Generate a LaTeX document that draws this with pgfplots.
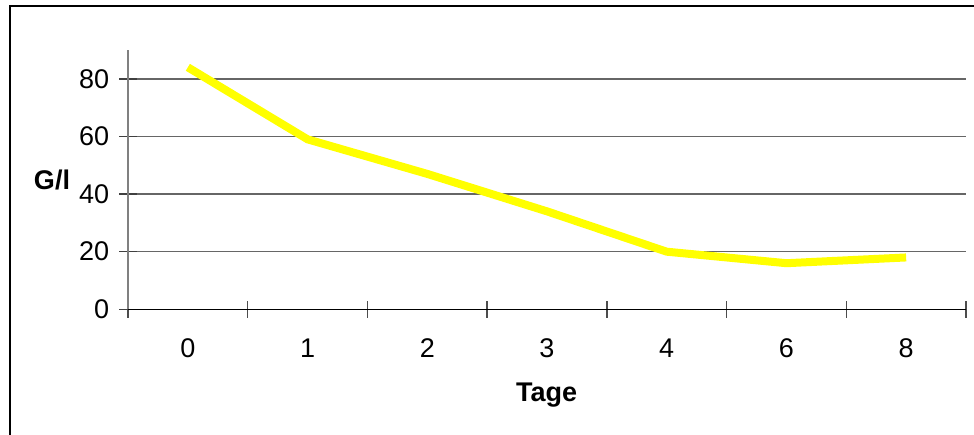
\documentclass[border=0pt]{standalone}
\usepackage{pgfplots}
\pgfplotsset{compat=1.18}
\usepackage{fontspec}
\setmainfont{Liberation Sans}
\begin{document}
\fontsize{13.5}{16}\selectfont
\begin{tikzpicture}[x=1pt,y=1pt]
\draw[black,line width=1pt] (5,-5) -- (5,214) -- (495,214);
\begin{axis}[
  at={(64pt,62.35pt)}, anchor=south west,
  scale only axis, width=419pt, height=129.65pt,
  xmin=-0.5, xmax=6.5, ymin=0, ymax=90,
  axis x line=bottom, axis y line=left,
  x axis line style={-, black, line width=0.75pt},
  y axis line style={-, black!50, line width=0.9pt},
  tick align=center, major tick length=8.5pt,
  xtick={-0.5,0.5,...,6.5}, xticklabels={},
  x tick style={black!70, line width=0.75pt},
  extra x ticks={0,1,2,3,4,5,6},
  extra x tick labels={0,1,2,3,4,6,8},
  extra x tick style={major tick length=0pt},
  ytick={0,20,40,60,80},
  y tick style={black!75, line width=0.75pt},
  ymajorgrids, major grid style={black!60, line width=0.8pt},
  tick label style={font=\fontsize{13.5}{16}\selectfont, /pgf/number format/assume math mode=true},
  xticklabel style={anchor=north, inner sep=0pt, yshift=-14.5pt},
  yticklabel style={anchor=east, inner sep=0pt, xshift=-5pt},
  clip=false,
]
\addplot[color={rgb,255:red,255;green,255;blue,0}, line width=4pt, line join=round] coordinates {
  (0,84) (1,59) (2,47) (3,34) (4,20) (5,16) (6,18)
};
\end{axis}
\node[font=\bfseries\fontsize{13.5}{16}\selectfont] at (26,127) {G/l};
\node[font=\bfseries\fontsize{13.5}{16}\selectfont] at (273.3,19.5) {Tage};
\pgfresetboundingbox
\useasboundingbox (0,0) rectangle (487,217);
\end{tikzpicture}
\end{document}
